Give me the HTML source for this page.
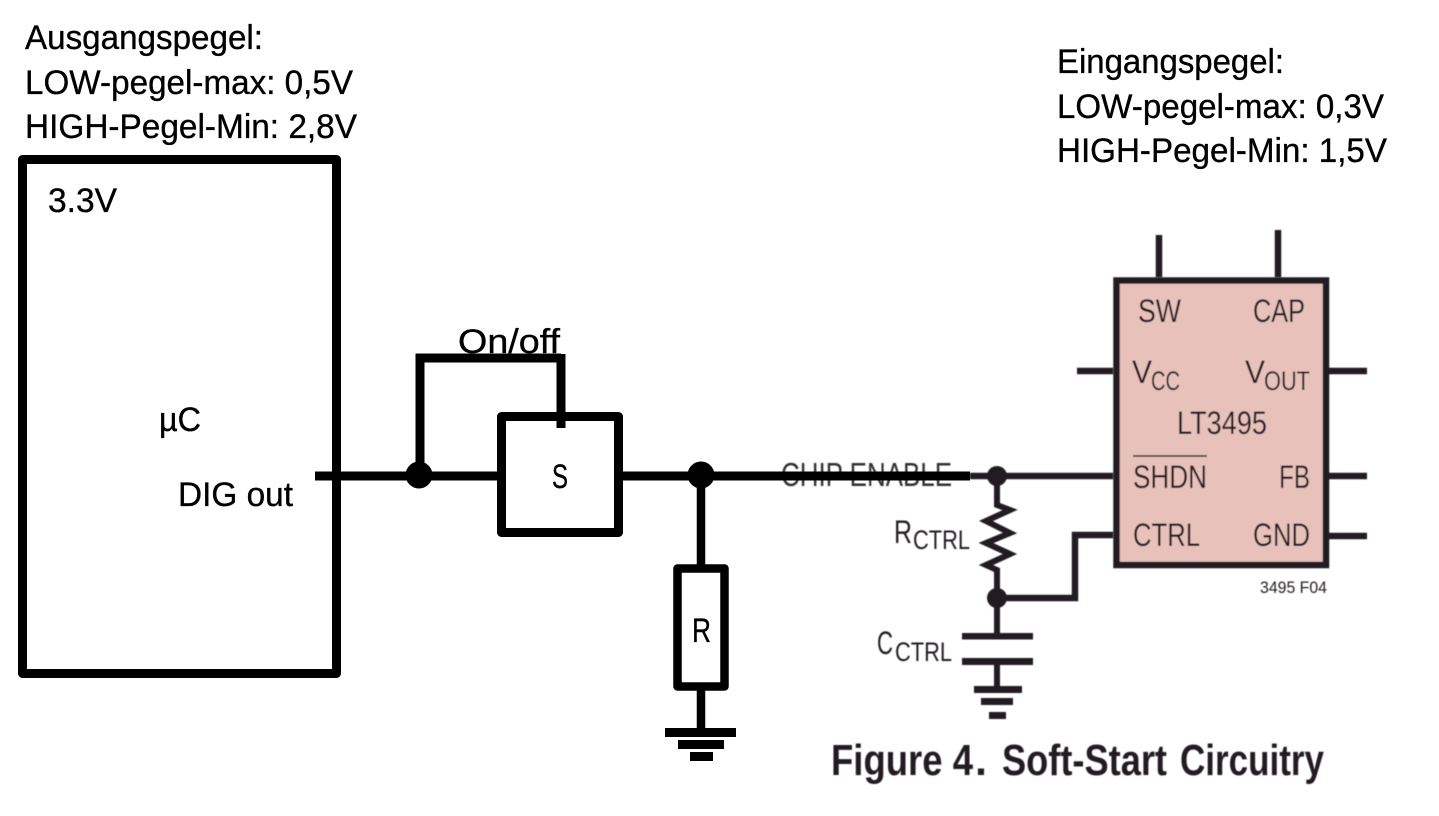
<!DOCTYPE html>
<html><head><meta charset="utf-8"><style>
html,body{margin:0;padding:0;background:#fff;width:1439px;height:816px;overflow:hidden}
svg{display:block}
.c{font-family:"Liberation Sans",sans-serif;font-size:34px;fill:#000;stroke:#000;stroke-width:.35}
.n{font-family:"Liberation Sans",sans-serif;font-size:32px;fill:#231f20}
.s{font-size:27px}
.t{font-family:"Liberation Sans",sans-serif;font-size:44px;font-weight:bold;fill:#231f20}
</style></head><body>
<svg width="1439" height="816" viewBox="0 0 1439 816" xmlns="http://www.w3.org/2000/svg">
<defs><filter id="b" x="0" y="0" width="100%" height="100%" filterUnits="userSpaceOnUse" primitiveUnits="userSpaceOnUse"><feGaussianBlur stdDeviation="0.4"/></filter></defs>
<!-- datasheet part -->
<g filter="url(#b)">
<g stroke="#231f20" fill="none">
<rect x="1116.500" y="280.500" width="209.500" height="284.500" fill="#e8c1ba" stroke-width="6.5"/>
<g stroke-width="6.5">
<path d="M1159 235V277M1278 230V277M1077 371H1113M1329 371H1367M1329 476H1367M1329 536H1367"/>
<path d="M1113 535H1075V598H997"/>
<path d="M970 476H1113"/>
</g>
<path d="M1133 456H1207" stroke-width="1.5"/>
<path d="M997 476V505L1010 510L986 521L1010 533L986 543L1010 554L986 565L997 570V633M997 661V690" stroke-width="6"/>
</g>
<g fill="#231f20">
<circle cx="997" cy="476" r="10"/>
<circle cx="997" cy="598" r="10"/>
<rect x="962" y="633" width="71" height="6.5"/>
<rect x="962" y="658" width="71" height="7"/>
<rect x="974" y="686" width="48" height="7"/>
<rect x="981" y="698" width="32" height="7"/>
<rect x="989" y="712" width="17" height="7"/>
</g>
<g class="n">
<text x="781" y="486" style="font-size:33px;fill:#333" textLength="171" lengthAdjust="spacingAndGlyphs">CHIP ENABLE</text>
<text x="894" y="543" textLength="18" lengthAdjust="spacingAndGlyphs">R</text>
<text x="913" y="549" class="n s" textLength="57" lengthAdjust="spacingAndGlyphs">CTRL</text>
<text x="877" y="654" textLength="16" lengthAdjust="spacingAndGlyphs">C</text>
<text x="895" y="661" class="n s" textLength="57" lengthAdjust="spacingAndGlyphs">CTRL</text>
<text x="1138" y="322" textLength="43" lengthAdjust="spacingAndGlyphs">SW</text>
<text x="1253" y="322" textLength="52" lengthAdjust="spacingAndGlyphs">CAP</text>
<text x="1132" y="383" textLength="20" lengthAdjust="spacingAndGlyphs">V</text>
<text x="1151" y="390" class="n s" textLength="29" lengthAdjust="spacingAndGlyphs">CC</text>
<text x="1245" y="383" textLength="20" lengthAdjust="spacingAndGlyphs">V</text>
<text x="1264" y="390" class="n s" textLength="46" lengthAdjust="spacingAndGlyphs">OUT</text>
<text x="1177" y="434" textLength="90" lengthAdjust="spacingAndGlyphs">LT3495</text>
<text x="1133" y="488" textLength="74" lengthAdjust="spacingAndGlyphs">SHDN</text>
<text x="1279" y="488" textLength="31" lengthAdjust="spacingAndGlyphs">FB</text>
<text x="1133" y="546" textLength="67" lengthAdjust="spacingAndGlyphs">CTRL</text>
<text x="1253" y="546" textLength="57" lengthAdjust="spacingAndGlyphs">GND</text>
<text x="1260" y="593" style="font-size:17px" textLength="67" lengthAdjust="spacingAndGlyphs">3495 F04</text>
</g>
<g class="t">
<text x="831" y="775" textLength="142" lengthAdjust="spacingAndGlyphs">Figure 4</text>
<text x="975" y="775" textLength="12" lengthAdjust="spacingAndGlyphs">.</text>
<text x="1002" y="775" textLength="165" lengthAdjust="spacingAndGlyphs">Soft-Start</text>
<text x="1180" y="775" textLength="144" lengthAdjust="spacingAndGlyphs">Circuitry</text>
</g>
</g>
<!-- added black part -->
<g stroke="#000" fill="none" stroke-width="9" stroke-linejoin="round">
<rect x="22.500" y="159.500" width="314" height="514"/>
<rect x="501.500" y="416.500" width="117" height="116" fill="#fff"/>
<rect x="677.500" y="568.500" width="47" height="118" fill="#fff" stroke-width="8.5"/>
<path d="M315 476H497M623 476H970"/>
<path d="M420 475V358H561" stroke-linejoin="miter"/>
<path d="M561 354V428"/>
<path d="M701 475V565M701 690V730" stroke-width="8.5"/>
</g>
<g fill="#000">
<circle cx="419" cy="475" r="13.500"/>
<circle cx="701" cy="475" r="13.500"/>
<rect x="665" y="728" width="71" height="9"/>
<rect x="678" y="740" width="46" height="9"/>
<rect x="690" y="752" width="23" height="9"/>
</g>
<g class="c">
<text x="25" y="49" textLength="238" lengthAdjust="spacingAndGlyphs">Ausgangspegel:</text>
<text x="25" y="94" textLength="328" lengthAdjust="spacingAndGlyphs">LOW-pegel-max: 0,5V</text>
<text x="25" y="138" textLength="332" lengthAdjust="spacingAndGlyphs">HIGH-Pegel-Min: 2,8V</text>
<text x="1057" y="73" textLength="227" lengthAdjust="spacingAndGlyphs">Eingangspegel:</text>
<text x="1057" y="118" textLength="327" lengthAdjust="spacingAndGlyphs">LOW-pegel-max: 0,3V</text>
<text x="1057" y="162" textLength="330" lengthAdjust="spacingAndGlyphs">HIGH-Pegel-Min: 1,5V</text>
<text x="48" y="212" textLength="69" lengthAdjust="spacingAndGlyphs">3.3V</text>
<text x="159" y="431" textLength="42" lengthAdjust="spacingAndGlyphs">µC</text>
<text x="178" y="506" textLength="115" lengthAdjust="spacingAndGlyphs">DIG out</text>
<text x="458" y="353" textLength="102" lengthAdjust="spacingAndGlyphs">On/off</text>
<text x="552" y="488" style="font-size:34px" textLength="16" lengthAdjust="spacingAndGlyphs">S</text>
<text x="692" y="642" style="font-size:34px" textLength="19" lengthAdjust="spacingAndGlyphs">R</text>
</g>
</svg>
</body></html>
